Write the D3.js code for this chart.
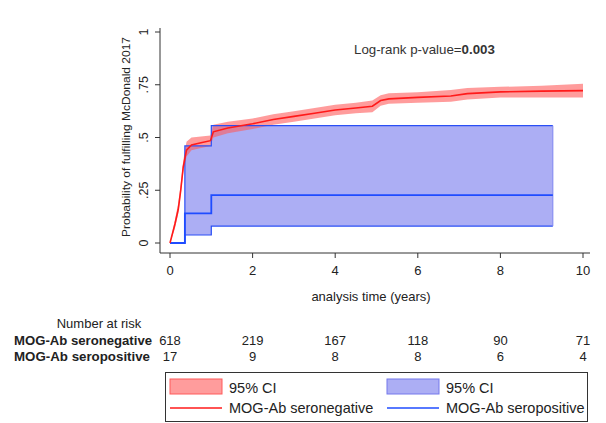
<!DOCTYPE html>
<html>
<head>
<meta charset="utf-8">
<script src="https://cdn.jsdelivr.net/npm/d3@7"></script>
<style>
  body { margin: 0; background: #fff; }
  text { font-family: "Liberation Sans", Arial, sans-serif; }
</style>
</head>
<body>
<div id="chart"></div>
<script>
// MOG-Ab seronegative (red) - KM estimate and 95% CI
var negTime = [0, 0.12, 0.2, 0.26, 0.32, 0.4, 0.52, 0.75, 0.98, 1.05, 1.4, 2, 2.5, 3, 3.5, 4, 4.5, 4.9, 5.1, 5.3, 6, 6.8, 7.2, 8, 9, 10];
var negEst = [0, 0.09, 0.16, 0.25, 0.36, 0.44, 0.465, 0.475, 0.485, 0.527, 0.545, 0.565, 0.585, 0.60, 0.615, 0.63, 0.64, 0.648, 0.675, 0.683, 0.69, 0.697, 0.708, 0.716, 0.72, 0.722];
var negLo = [0, 0.07, 0.14, 0.23, 0.33, 0.41, 0.44, 0.45, 0.46, 0.50, 0.52, 0.54, 0.56, 0.575, 0.59, 0.605, 0.615, 0.62, 0.65, 0.66, 0.665, 0.67, 0.68, 0.69, 0.69, 0.69];
var negHi = [0, 0.11, 0.19, 0.28, 0.39, 0.48, 0.50, 0.505, 0.51, 0.56, 0.575, 0.59, 0.61, 0.625, 0.64, 0.655, 0.665, 0.675, 0.70, 0.71, 0.715, 0.725, 0.735, 0.74, 0.745, 0.755];

// MOG-Ab seropositive (blue) - step function
var posTime = [0, 0.36, 1.0, 9.27];
var posEst = [0, 0.14, 0.227, 0.227];
var posLo = [0, 0.038, 0.08, 0.08];
var posHi = [0, 0.46, 0.556, 0.556];

var xTicks = [0, 2, 4, 6, 8, 10];
var yTicks = [0, 0.25, 0.5, 0.75, 1];
var yTickLabels = ["0", ".25", ".5", ".75", "1"];
var riskNeg = [618, 219, 167, 118, 90, 71];
var riskPos = [17, 9, 8, 8, 6, 4];

var svg = d3.select('#chart').append('svg')
    .attr('width', 606)
    .attr('height', 423);

var x = d3.scaleLinear().domain([0, 10]).range([170, 583]);
var y = d3.scaleLinear().domain([0, 1]).range([243, 32]);

var neg = negTime.map(function (t, i) { return { t: t, e: negEst[i], lo: negLo[i], hi: negHi[i] }; });
var pos = posTime.map(function (t, i) { return { t: t, e: posEst[i], lo: posLo[i], hi: posHi[i] }; });

// blue CI band
svg.append('path')
    .datum(pos)
    .attr('d', d3.area().curve(d3.curveStepAfter)
        .x(function (d) { return x(d.t); })
        .y0(function (d) { return y(d.lo); })
        .y1(function (d) { return y(d.hi); }))
    .attr('fill', '#7478ec')
    .attr('fill-opacity', 0.6);

// red CI band
svg.append('path')
    .datum(neg)
    .attr('d', d3.area()
        .x(function (d) { return x(d.t); })
        .y0(function (d) { return y(d.lo); })
        .y1(function (d) { return y(d.hi); }))
    .attr('fill', '#ff5a5a')
    .attr('fill-opacity', 0.6);

// blue CI lines
['lo', 'hi'].forEach(function (k) {
    svg.append('path')
        .datum(pos)
        .attr('d', d3.line().curve(d3.curveStepAfter)
            .x(function (d) { return x(d.t); })
            .y(function (d) { return y(d[k]); }))
        .attr('fill', 'none')
        .attr('stroke', '#2a4ff5')
        .attr('stroke-width', 1.2);
});
svg.append('line')
    .attr('x1', x(posTime[posTime.length - 1])).attr('x2', x(posTime[posTime.length - 1]))
    .attr('y1', y(posLo[posLo.length - 1])).attr('y2', y(posHi[posHi.length - 1]))
    .attr('stroke', '#7f86f0').attr('stroke-width', 1);

// blue estimate
svg.append('path')
    .datum(pos)
    .attr('d', d3.line().curve(d3.curveStepAfter)
        .x(function (d) { return x(d.t); })
        .y(function (d) { return y(d.e); }))
    .attr('fill', 'none')
    .attr('stroke', '#1f4cff')
    .attr('stroke-width', 1.8);

// red estimate
svg.append('path')
    .datum(neg)
    .attr('d', d3.line()
        .x(function (d) { return x(d.t); })
        .y(function (d) { return y(d.e); }))
    .attr('fill', 'none')
    .attr('stroke', '#ff1a1a')
    .attr('stroke-width', 1.6);

// axes
var axisColor = '#333';
svg.append('line').attr('x1', 160).attr('x2', 160).attr('y1', 28).attr('y2', 253)
    .attr('stroke', axisColor);
svg.append('line').attr('x1', 160).attr('x2', 590).attr('y1', 253).attr('y2', 253)
    .attr('stroke', axisColor);

yTicks.forEach(function (v, i) {
    svg.append('line').attr('x1', 155).attr('x2', 160).attr('y1', y(v)).attr('y2', y(v))
        .attr('stroke', axisColor);
    svg.append('text')
        .attr('transform', 'translate(148,' + y(v) + ') rotate(-90)')
        .attr('text-anchor', 'middle')
        .attr('font-size', 12.5)
        .attr('fill', '#222')
        .text(yTickLabels[i]);
});
xTicks.forEach(function (v) {
    svg.append('line').attr('x1', x(v)).attr('x2', x(v)).attr('y1', 253).attr('y2', 258)
        .attr('stroke', axisColor);
    svg.append('text')
        .attr('x', x(v)).attr('y', 275)
        .attr('text-anchor', 'middle')
        .attr('font-size', 13)
        .attr('fill', '#222')
        .text(v);
});

svg.append('text')
    .attr('transform', 'translate(130,137) rotate(-90)')
    .attr('text-anchor', 'middle')
    .attr('font-size', 11.5)
    .attr('textLength', 200)
    .attr('lengthAdjust', 'spacingAndGlyphs')
    .attr('fill', '#222')
    .text('Probability of fulfilling McDonald 2017');

svg.append('text')
    .attr('x', 371).attr('y', 301)
    .attr('text-anchor', 'middle')
    .attr('font-size', 13)
    .attr('fill', '#222')
    .text('analysis time (years)');

var pv = svg.append('text')
    .attr('x', 354).attr('y', 54)
    .attr('font-family', '"Open Sans", sans-serif')
    .attr('font-size', 13.3)
    .attr('fill', '#333');
pv.append('tspan').text('Log-rank p-value=');
pv.append('tspan').attr('font-weight', 'bold').text('0.003');

// number at risk
svg.append('text')
    .attr('x', 99).attr('y', 328)
    .attr('text-anchor', 'middle')
    .attr('font-size', 13)
    .attr('fill', '#222')
    .text('Number at risk');
svg.append('text').attr('x', 14).attr('y', 345)
    .attr('font-size', 12).attr('font-weight', 'bold').attr('fill', '#222')
    .attr('textLength', 138).attr('lengthAdjust', 'spacingAndGlyphs')
    .text('MOG-Ab seronegative');
svg.append('text').attr('x', 14).attr('y', 361)
    .attr('font-size', 12).attr('font-weight', 'bold').attr('fill', '#222')
    .attr('textLength', 136).attr('lengthAdjust', 'spacingAndGlyphs')
    .text('MOG-Ab seropositive');
xTicks.forEach(function (v, i) {
    svg.append('text').attr('x', x(v)).attr('y', 345)
        .attr('text-anchor', 'middle').attr('font-size', 13).attr('fill', '#222')
        .text(riskNeg[i]);
    svg.append('text').attr('x', x(v)).attr('y', 361)
        .attr('text-anchor', 'middle').attr('font-size', 13).attr('fill', '#222')
        .text(riskPos[i]);
});

// legend
svg.append('rect').attr('x', 165.5).attr('y', 372.5).attr('width', 422).attr('height', 49)
    .attr('fill', 'none').attr('stroke', '#333');
var legendItems = [
    { x: 170, type: 'area', color: '#ff5a5a', label: '95% CI', row: 0 },
    { x: 387, type: 'area', color: '#7478ec', label: '95% CI', row: 0 },
    { x: 170, type: 'line', color: '#ff1a1a', label: 'MOG-Ab seronegative', row: 1 },
    { x: 387, type: 'line', color: '#1f4cff', label: 'MOG-Ab seropositive', row: 1 }
];
legendItems.forEach(function (d) {
    if (d.type === 'area') {
        svg.append('rect').attr('x', d.x).attr('y', 379).attr('width', 52).attr('height', 15)
            .attr('fill', d.color).attr('fill-opacity', 0.6)
            .attr('stroke', d.color).attr('stroke-width', 1);
    } else {
        svg.append('line').attr('x1', d.x).attr('x2', d.x + 52).attr('y1', 408).attr('y2', 408)
            .attr('stroke', d.color).attr('stroke-width', 1.5);
    }
    svg.append('text').attr('x', d.x + 59).attr('y', d.row === 0 ? 393 : 413)
        .attr('font-size', 14.5).attr('fill', '#222')
        .text(d.label);
});
</script>
</body>
</html>
